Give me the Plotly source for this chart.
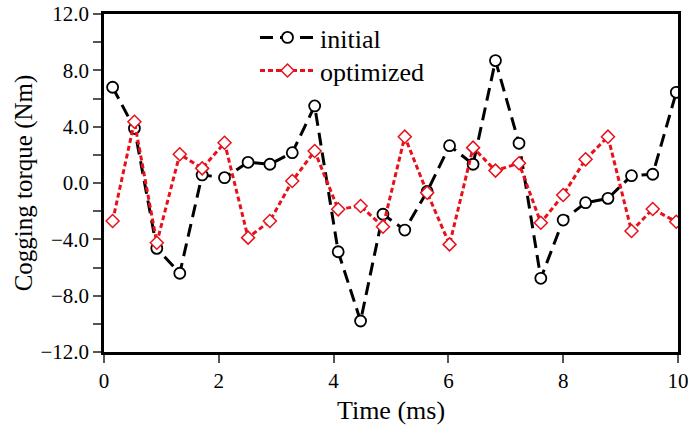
import plotly.graph_objects as go

time_ms = [0.15, 0.53, 0.92, 1.32, 1.71, 2.10, 2.51, 2.89, 3.28, 3.67, 4.08, 4.47, 4.86,
           5.24, 5.63, 6.02, 6.43, 6.82, 7.23, 7.61, 8.00, 8.39, 8.78, 9.19, 9.56, 9.97]
initial = [6.80, 3.88, -4.64, -6.41, 0.57, 0.38, 1.47, 1.33, 2.15, 5.47, -4.88, -9.80, -2.22,
           -3.34, -0.60, 2.65, 1.33, 8.69, 2.82, -6.77, -2.63, -1.40, -1.09, 0.52, 0.62, 6.44]
optimized = [-2.70, 4.35, -4.24, 2.04, 1.04, 2.86, -3.88, -2.70, 0.14, 2.27, -1.87, -1.63, -3.10,
             3.29, -0.69, -4.36, 2.51, 0.88, 1.40, -2.82, -0.85, 1.68, 3.29, -3.41, -1.85, -2.75]
x_ticks = [0, 2, 4, 6, 8, 10]
y_ticks = [-12, -8, -4, 0, 4, 8, 12]

FONT = "Liberation Serif"

fig = go.Figure()
fig.add_trace(go.Scatter(
    x=time_ms, y=initial, name="initial", mode="lines+markers",
    line=dict(color="black", width=3, dash="13px,7px"),
    marker=dict(symbol="circle", size=11, color="white", line=dict(color="black", width=1.8)),
    legend="legend",
))
fig.add_trace(go.Scatter(
    x=time_ms, y=optimized, name="optimized", mode="lines+markers",
    line=dict(color="#e8101a", width=3, dash="5px,3px"),
    marker=dict(symbol="diamond", size=10, color="white", line=dict(color="#e8101a", width=1.5)),
    legend="legend2",
))

leg_common = dict(xanchor="left", yanchor="top", bgcolor="rgba(0,0,0,0)",
                  font=dict(family=FONT, size=26), itemwidth=55)
x_leg = (255 - 104) / 574

fig.update_layout(
    width=688, height=425,
    margin=dict(l=104, r=10, t=14, b=73, autoexpand=False),
    paper_bgcolor="white", plot_bgcolor="white",
    font=dict(family=FONT, size=21, color="black"),
    showlegend=True,
    legend=dict(x=x_leg, y=1.0, **leg_common),
    legend2=dict(x=x_leg, y=0.902, **leg_common),
)
fig.update_xaxes(
    range=[0, 10], tickvals=x_ticks, ticks="outside", ticklen=8, tickwidth=1.5,
    tickcolor="#555", showline=True, linecolor="black", linewidth=2.5, mirror=True,
    showgrid=False, zeroline=False, tickfont=dict(family=FONT, size=21), automargin=False,
    ticklabeloverflow="allow",
    title=dict(text="Time (ms)", font=dict(family=FONT, size=26), standoff=9),
)
fig.update_yaxes(
    range=[-12, 12], tickvals=y_ticks, tickformat=".1f", ticks="outside", ticklen=8,
    tickwidth=1.5, tickcolor="#555", showline=True, linecolor="black", linewidth=2.5,
    mirror=True, showgrid=False, zeroline=False, tickfont=dict(family=FONT, size=21),
    automargin=False, ticklabeloverflow="allow",
    minor=dict(tickvals=[-10, -6, -2, 2, 6, 10], ticks="outside", ticklen=8,
               tickwidth=1.5, tickcolor="#555"),
    title=dict(text="Cogging torque (Nm)", font=dict(family=FONT, size=25), standoff=1),
)

fig.write_html("out.html", config={"displayModeBar": False},
               post_script="document.body.style.margin='0';")
